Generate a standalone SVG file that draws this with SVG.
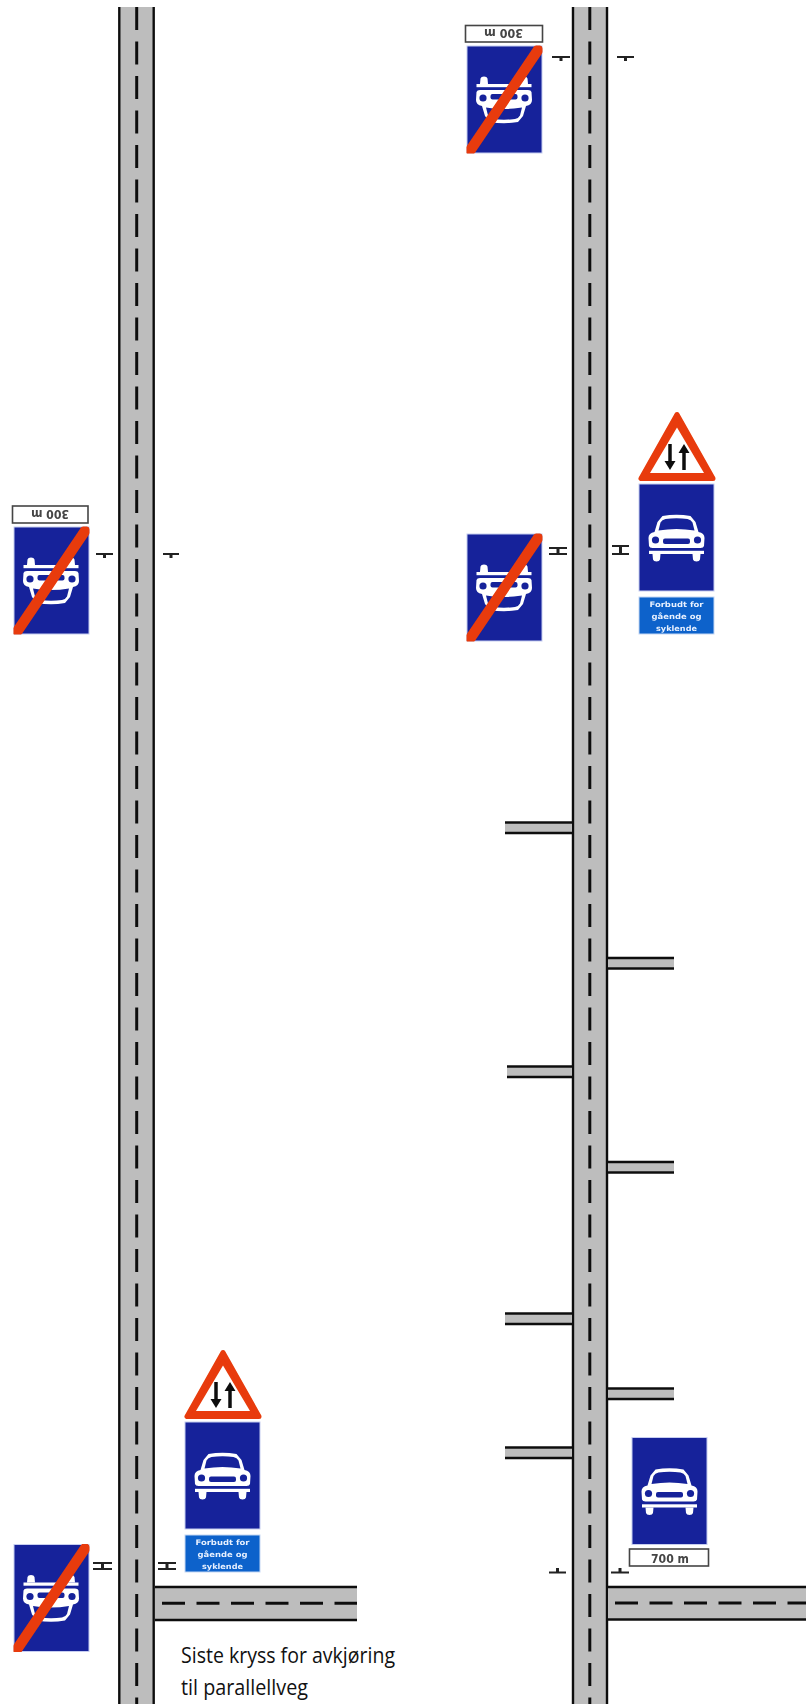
<svg xmlns="http://www.w3.org/2000/svg" width="806" height="1704" viewBox="0 0 806 1704">
<style>
.road{fill:#bdbdbd}
.edge{stroke:#111;stroke-width:2.4;fill:none}
.cl{stroke:#111;stroke-width:3;fill:none;stroke-dasharray:23 11.5}
.mark{stroke:#222;stroke-width:1.8;fill:none}
.stem{stroke:#222;stroke-width:3;fill:none}
.blue{fill:#15239a;stroke:#c6cdf0;stroke-width:1}
.panel{fill:#0a62cb;stroke:#c6d8f4;stroke-width:1}
.plate{fill:#fff;stroke:#444;stroke-width:1.6}
.platet{font-family:"DejaVu Sans",Arial,sans-serif;font-weight:bold;font-size:12px;fill:#444;text-anchor:middle}
.pt{font-family:"DejaVu Sans",Arial,sans-serif;font-weight:bold;font-size:7.500px;fill:#e8f0ff;text-anchor:middle}
.cap{font-family:"Open Sans",Arial,sans-serif;font-size:22px;fill:#111}
.w{fill:#fff}.b{fill:#15239a}
.soft{filter:url(#soft)}
</style>
<defs>
<filter id="soft" x="-5%" y="-5%" width="110%" height="110%"><feGaussianBlur stdDeviation="0.45"/></filter>
<clipPath id="signclip"><rect x="-0.500" y="-0.500" width="76" height="108"/></clipPath>
<g id="car">
<path class="w" d="M16 48L19 38L24 32Q38 29.500 52 32L57 38L60 48Q66 49 66 54L65.500 62Q65 64 62 64H14Q11 64 10.500 62L10 54Q10 49 16 48Z"/>
<path class="b" d="M20 46.500L22 38.500Q23.500 35.500 27 35Q38 33.500 49 35Q52.500 35.500 54 38.500L56 46.500Q38 43.500 20 46.500Z"/>
<circle class="b" cx="17" cy="56" r="3.600"/><circle class="b" cx="59" cy="56" r="3.600"/>
<rect class="b" x="24.500" y="54.500" width="27" height="5.500" rx="2"/>
<rect class="w" x="10.500" y="66.800" width="55" height="3.200"/>
<path class="w" d="M14 70H22L21.500 75.500Q21 77.500 18 77.500Q15 77.500 14.500 75.500Z M54 70H62L61.500 75.500Q61 77.500 58 77.500Q55 77.500 54.500 75.500Z"/>
</g>
<g id="endsign">
<rect class="blue" x="0" y="0" width="75" height="107"/>
<use href="#car" transform="rotate(180 37.500 54)"/>
<g clip-path="url(#signclip)"><path d="M3.500 104L71 4" stroke="#e83a08" stroke-width="10.500" stroke-linecap="round" fill="none"/></g>
</g>
<g id="carsign">
<rect class="blue" x="0" y="0" width="75" height="107"/>
<use href="#car" transform="translate(-0.500 0)"/>
</g>
<g id="warn">
<path d="M39 6.500L3 70.500H75Z" fill="#e83a08" stroke="#e83a08" stroke-width="5" stroke-linejoin="round"/>
<path class="w" d="M39 19.500L12 65H66Z"/>
<path d="M32 36V56M46 62V42" stroke="#111" stroke-width="3.500" fill="none"/>
<path d="M26.500 53H37.500L32 62ZM40.500 45H51.500L46 36Z" fill="#111"/>
</g>
</defs>
<g id="connectors" class="soft">
<g id="road-left">
<rect class="road" x="119" y="7" width="35" height="1697"/>
<path class="edge" d="M119.300 7V1704M153.700 7V1704"/>
<path class="cl" d="M136.700 7V1704"/>
</g>
<g id="road-left-branch">
<rect class="road" x="155" y="1587" width="202" height="33"/>
<path class="edge" d="M155 1587H357M155 1620H357"/>
<path class="cl" d="M162 1603.300H357"/>
</g>
<g id="road-right">
<rect class="road" x="573" y="7" width="35" height="1697"/>
<path class="edge" d="M573 7V1704M607 7V1704"/>
<path class="cl" d="M589.800 7V1704"/>
</g>
<g id="road-right-branch">
<rect class="road" x="608" y="1587" width="198" height="32"/>
<path class="edge" d="M608 1587H806M608 1619.500H806"/>
<path class="cl" d="M615 1603H806"/>
</g>
<g id="stubs">
<rect class="road" x="505" y="822" width="67" height="11"/><path class="edge" d="M505 822.500H572M505 833H572"/>
<rect class="road" x="507" y="1066" width="65" height="11"/><path class="edge" d="M507 1066.500H572M507 1077H572"/>
<rect class="road" x="505" y="1313" width="67" height="11"/><path class="edge" d="M505 1313.500H572M505 1324H572"/>
<rect class="road" x="505" y="1447" width="67" height="11"/><path class="edge" d="M505 1447.500H572M505 1458H572"/>
<rect class="road" x="608" y="958" width="66" height="11"/><path class="edge" d="M608 958H674M608 968.500H674"/>
<rect class="road" x="608" y="1162" width="66" height="11"/><path class="edge" d="M608 1162H674M608 1172.500H674"/>
<rect class="road" x="608" y="1388" width="66" height="11"/><path class="edge" d="M608 1388.500H674M608 1399H674"/>
</g>
<g id="post-marks">
<path class="mark" d="M552 57H570M617 57H634M96 554H113M163 554H179"/>
<path class="stem" d="M561 57V61M625.500 57V61M104.500 554V558M171 554V558"/>
<path class="mark" d="M549 548H567M549 554H567M612 546H629M612 554H629M93 1563H112M93 1569H112M158 1563H176M158 1569H176"/>
<path class="stem" d="M558 548V554M620.500 546V554M102.500 1563V1569M167 1563V1569"/>
<path class="mark" d="M549 1572.500H566M611 1572.500H629"/>
<path class="stem" d="M557.500 1568V1572M620 1568V1572"/>
</g>
</g>
<g id="sign-end-top" class="soft">
<rect class="plate" x="465.500" y="25.500" width="77" height="16.500"/>
<text class="platet" transform="rotate(180 503.500 33)" x="503.500" y="37.500" textLength="39" lengthAdjust="spacingAndGlyphs">300 m</text>
<use href="#endsign" x="467" y="46"/>
</g>
<g id="sign-end-mid-left" class="soft">
<rect class="plate" x="12.500" y="506" width="75.500" height="17"/>
<text class="platet" transform="rotate(180 50 514.500)" x="50" y="519" textLength="38" lengthAdjust="spacingAndGlyphs">300 m</text>
<use href="#endsign" x="14" y="527"/>
</g>
<g id="sign-end-mid-right" class="soft">
<use href="#endsign" x="467" y="534"/>
</g>
<g id="sign-end-bottom-left" class="soft">
<use href="#endsign" x="14" y="1544.500"/>
</g>
<g id="sign-two-way-right" class="soft">
<use href="#warn" x="638" y="408"/>
<use href="#carsign" x="639" y="484"/>
<rect class="panel" x="639" y="597" width="75" height="37"/>
<text class="pt" x="676.500" y="607" textLength="54" lengthAdjust="spacingAndGlyphs">Forbudt for</text>
<text class="pt" x="676.500" y="619" textLength="50" lengthAdjust="spacingAndGlyphs">gående og</text>
<text class="pt" x="676.500" y="630.500" textLength="41" lengthAdjust="spacingAndGlyphs">syklende</text>
</g>
<g id="sign-two-way-left" class="soft">
<use href="#warn" x="184" y="1346"/>
<use href="#carsign" x="185" y="1422"/>
<rect class="panel" x="185" y="1535" width="75" height="37"/>
<text class="pt" x="222.500" y="1545" textLength="54" lengthAdjust="spacingAndGlyphs">Forbudt for</text>
<text class="pt" x="222.500" y="1557" textLength="50" lengthAdjust="spacingAndGlyphs">gående og</text>
<text class="pt" x="222.500" y="1568.500" textLength="41" lengthAdjust="spacingAndGlyphs">syklende</text>
</g>
<g id="sign-motor-road-700" class="soft">
<use href="#carsign" x="632" y="1437.500"/>
<rect class="plate" x="629.500" y="1549" width="79" height="17"/>
<text class="platet" x="670" y="1562.500" textLength="38" lengthAdjust="spacingAndGlyphs">700 m</text>
</g>
<g id="caption">
<text class="cap" x="181" y="1663" textLength="214" lengthAdjust="spacingAndGlyphs">Siste kryss for avkjøring</text>
<text class="cap" x="181" y="1695" textLength="127" lengthAdjust="spacingAndGlyphs">til parallellveg</text>
</g>
</svg>
